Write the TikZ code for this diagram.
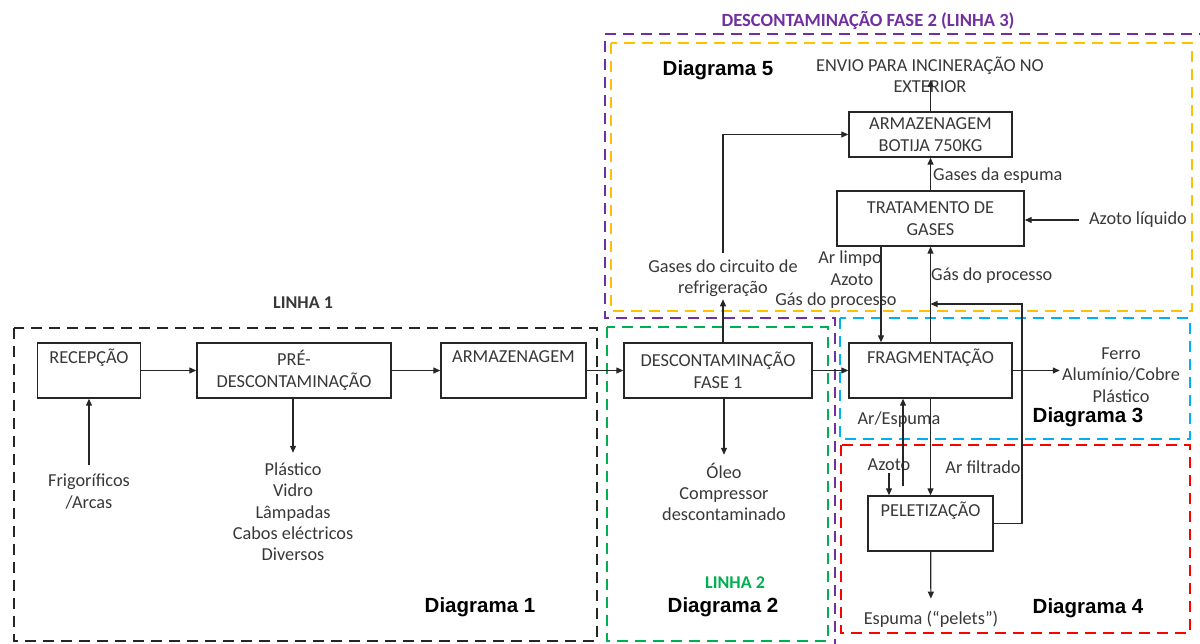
\documentclass[tikz,border=0pt]{standalone}
\usepackage{fontspec}
\setmainfont{Carlito}
\newfontfamily\arialfont{Liberation Sans}
\usetikzlibrary{arrows.meta}

\definecolor{fasepurple}{HTML}{7030A0}
\definecolor{fiveyellow}{HTML}{FFC000}
\definecolor{linegreen}{HTML}{00B050}
\definecolor{fragblue}{HTML}{00B0F0}
\definecolor{pelletred}{HTML}{FF0000}

\begin{document}
\begin{tikzpicture}[x=1pt, y=-1pt,
  every node/.style={font=\fontsize{18.3}{21.3}\selectfont, text=black!78, align=center, inner sep=2pt},
  box/.style={draw=black!85, line width=1.4pt, minimum height=55pt, inner sep=0pt,
    font=\fontsize{18.3}{21.7}\selectfont},
  arr/.style={-{Triangle[length=7pt,width=6pt]}, line width=1.2pt, draw=black!85},
  region/.style={line width=2.4pt, dash pattern=on 11pt off 7pt},
  diag/.style={font=\arialfont\bfseries\fontsize{20.5}{24}\selectfont, text=black},
  title/.style={font=\bfseries\fontsize{18}{22}\selectfont}]
  \useasboundingbox (0,0) rectangle (1200,644);

  % dashed areas
  \draw[region, black!85] (14,328) rectangle (597,641);
  \draw[region, linegreen] (607,327) rectangle (828,641);
  \draw[region, fasepurple] (605,34) -- (1204,34) -- (1204,650) -- (835,650)
    -- (835,318) -- (605,318) -- cycle;
  \draw[region, fiveyellow] (611,43) rectangle (1192,311);
  \draw[region, fragblue] (840,318) rectangle (1190,439);
  \draw[region, pelletred] (841,445) rectangle (1190,633);

  %nodes
  \node[title] at (303,303) (linha1) {LINHA 1};
  \node[title, text=linegreen] at (735,583) (linha2) {LINHA 2};
  \node[title, font=\bfseries\fontsize{18.6}{22}\selectfont, text=fasepurple]
    at (868,20) (linha3) {DESCONTAMINAÇÃO FASE 2 (LINHA 3)};

  \node[box, minimum width=103pt] at (89,370.5) (recepcao) {RECEPÇÃO\\\strut};
  \node[box, minimum width=194pt] at (294,370.5) (predesc) {PRÉ-\\DESCONTAMINAÇÃO};
  \node[box, minimum width=145pt] at (513.5,370.5) (armazem) {ARMAZENAGEM\\\strut};
  \node at (89,491.5) (frigorificos) {Frigoríficos\\/Arcas};
  \node at (293,512) (residuos) {Plástico\\Vidro\\Lâmpadas\\Cabos eléctricos\\Diversos};

  \node[box, minimum width=188pt] at (718,370.5) (desc1) {DESCONTAMINAÇÃO\\FASE 1};
  \node at (724,492) (oleo) {Óleo\\Compressor\\descontaminado};
  \node at (723,278.5) (gasescirc) {Gases do circuito de\\refrigeração};

  \node[box, minimum width=163pt] at (930.5,370.5) (frag) {FRAGMENTAÇÃO\\\strut};
  \node[box, minimum width=125pt] at (930.5,523.5) (pelet) {PELETIZAÇÃO\\\strut};
  \node[box, minimum width=187pt] at (930.5,218.5) (tratgases) {TRATAMENTO DE\\GASES};
  \node[box, minimum width=163pt, minimum height=45pt, font=\fontsize{18.3}{21.3}\selectfont]
    at (930.5,134.5) (botija) {ARMAZENAGEM\\BOTIJA 750KG};
  \node at (930,74.5) (envio) {ENVIO PARA INCINERAÇÃO NO\\EXTERIOR};
  \coordinate (enviotip) at (930.5,80);

  \node at (1138,220) (azotoliq) {Azoto líquido};
  \node[anchor=west] at (931,176) (gasesesp) {Gases da espuma};
  \node at (850,259) (arlimpo) {Ar limpo};
  \node at (852,280) (azotoa) {Azoto};
  \node at (836,301) (gasproc) {Gás do processo};
  \node[anchor=west] at (929,276) (gasproc2) {Gás do processo};
  \node at (1121,375) (metais) {Ferro\\Alumínio/Cobre\\Plástico};
  \node at (899,420) (arespuma) {Ar/Espuma};
  \node at (889,465) (azotob) {Azoto};
  \node at (983,467) (arfiltrado) {Ar filtrado};
  \node at (931,619) (espuma) {Espuma (“pelets”)};
  \coordinate (retorno) at (1022,304);

  \node[diag] at (480,607) (diag1) {Diagrama 1};
  \node[diag] at (723,607) (diag2) {Diagrama 2};
  \node[diag] at (1088,417) (diag3) {Diagrama 3};
  \node[diag] at (1088,608) (diag4) {Diagrama 4};
  \node[diag] at (718,70) (diag5) {Diagrama 5};

  % arrows between nodes
  \draw[arr] (recepcao) -- (predesc);
  \draw[arr] (predesc) -- (armazem);
  \draw[arr] (armazem) -- (desc1);
  \draw[arr] (desc1) -- (frag);
  \draw[arr, shorten <=7pt] (frigorificos) -- (recepcao);
  \draw[arr, shorten >=8pt] (predesc.south -| residuos) -- (residuos);
  \draw[arr, shorten >=6pt] (desc1.south -| oleo) -- (oleo);
  \draw[arr] (desc1.north -| gasescirc) -- (gasescirc);
  \draw[arr, shorten <=5pt] (gasescirc.north) |- (botija.west);
  \draw[arr] (botija) -- (enviotip);
  \draw[arr] (tratgases) -- (botija);
  \draw[arr, shorten <=8pt] (azotoliq) -- (azotoliq -| tratgases.east);
  \draw[arr] ([xshift=-49.5pt]tratgases.south) -- ([xshift=-49.5pt]frag.north);
  \draw[arr] (frag) -- (tratgases);
  \draw[arr] (pelet.east) -| (retorno) -- (retorno -| frag.north);
  \draw[arr] (frag.east) -- (frag.east -| metais.west);
  \draw[arr] (frag) -- (pelet);
  \draw[arr] ([xshift=-27.5pt, yshift=9pt]pelet.north) -- ([xshift=-27.5pt]frag.south);
  \draw[arr] (azotob) -- (azotob |- pelet.north);
  \draw[arr, shorten >=10pt] (pelet) -- (espuma);
\end{tikzpicture}
\end{document}
